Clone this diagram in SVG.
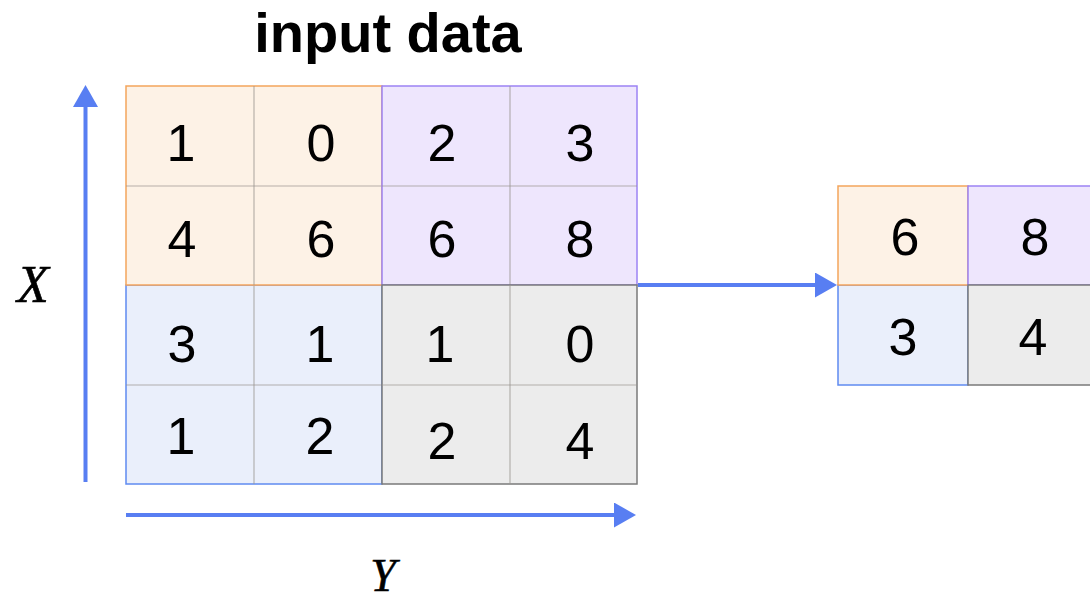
<svg xmlns="http://www.w3.org/2000/svg" width="1090" height="603" viewBox="0 0 1090 603">
  <defs>
    <style>
      .num { font-family: "Liberation Sans", Arial, sans-serif; font-size: 52px; fill: #000; text-anchor: middle; }
      .axis-label { font-family: "Liberation Serif", "Times New Roman", serif; font-style: italic; font-size: 52px; fill: #000; text-anchor: middle; stroke: #000; stroke-width: 0.6; }
      .title { font-family: "Liberation Sans", Arial, sans-serif; font-weight: bold; font-size: 56px; fill: #000; text-anchor: middle; }
      .orange { fill: #fdf2e6; stroke: #f4a55c; stroke-width: 1.5; }
      .purple { fill: #eee6fd; stroke: #9c83f4; stroke-width: 1.5; }
      .blue { fill: #eaeffb; stroke: #5f8bf1; stroke-width: 1.5; }
      .gray { fill: #ececec; stroke: #7a7a7a; stroke-width: 1.5; }
      .inner { stroke: #9a9590; stroke-opacity: 0.7; stroke-width: 1.2; fill: none; }
      .arrow { stroke: #587ef2; stroke-width: 4; fill: none; }
    </style>
    <!-- arrowhead starts at the end of its line and points along it -->
    <marker id="head" markerUnits="userSpaceOnUse" markerWidth="24" markerHeight="26" refX="0" refY="12.5" orient="auto">
      <path d="M0,0 L22,12.5 L0,25 Z" fill="#587ef2"/>
    </marker>
  </defs>

  <rect width="1090" height="603" fill="#ffffff"/>

  <text class="title" x="388" y="52">input data</text>

  <!-- input grid: four 2x2 blocks -->
  <g id="block-blue">
    <rect class="blue" x="126" y="285" width="256" height="199"/>
    <line class="inner" x1="254" y1="285" x2="254" y2="484"/>
    <line class="inner" x1="126" y1="385" x2="382" y2="385"/>
    <text class="num" x="182" y="362">3</text>
    <text class="num" x="320" y="362">1</text>
    <text class="num" x="181" y="454">1</text>
    <text class="num" x="320" y="454">2</text>
  </g>
  <g id="block-orange">
    <rect class="orange" x="126" y="86" width="256" height="199"/>
    <line class="inner" x1="254" y1="86" x2="254" y2="285"/>
    <line class="inner" x1="126" y1="186" x2="382" y2="186"/>
    <text class="num" x="181" y="161">1</text>
    <text class="num" x="321" y="161">0</text>
    <text class="num" x="182" y="257">4</text>
    <text class="num" x="321" y="257">6</text>
  </g>
  <g id="block-purple">
    <rect class="purple" x="382" y="86" width="255" height="199"/>
    <line class="inner" x1="510" y1="86" x2="510" y2="285"/>
    <line class="inner" x1="382" y1="186" x2="637" y2="186"/>
    <text class="num" x="442" y="161">2</text>
    <text class="num" x="580" y="161">3</text>
    <text class="num" x="442" y="257">6</text>
    <text class="num" x="580" y="257">8</text>
  </g>
  <g id="block-gray">
    <rect class="gray" x="382" y="285" width="255" height="199"/>
    <line class="inner" x1="510" y1="285" x2="510" y2="484"/>
    <line class="inner" x1="382" y1="385" x2="637" y2="385"/>
    <text class="num" x="440" y="362">1</text>
    <text class="num" x="580" y="362">0</text>
    <text class="num" x="442" y="459">2</text>
    <text class="num" x="580" y="459">4</text>
  </g>

  <!-- pooled output -->
  <g id="out-blue">
    <rect class="blue" x="838" y="285" width="130" height="100"/>
    <text class="num" x="903" y="355">3</text>
  </g>
  <g id="out-orange">
    <rect class="orange" x="838" y="186" width="130" height="99"/>
    <text class="num" x="905" y="255">6</text>
  </g>
  <g id="out-purple">
    <rect class="purple" x="968" y="186" width="130" height="99"/>
    <text class="num" x="1035" y="255">8</text>
  </g>
  <g id="out-gray">
    <rect class="gray" x="968" y="285" width="130" height="100"/>
    <text class="num" x="1033" y="355">4</text>
  </g>

  <!-- axes and pooling connector -->
  <g id="connectors">
    <line class="arrow" x1="85.5" y1="482" x2="85.5" y2="107" marker-end="url(#head)"/>
    <line class="arrow" x1="126" y1="515" x2="614" y2="515" marker-end="url(#head)"/>
    <line class="arrow" x1="638" y1="285" x2="815" y2="285" marker-end="url(#head)"/>
  </g>

  <text class="axis-label" x="33" y="302">X</text>
  <text class="axis-label" x="383" y="591" style="font-size:46px">Y</text>
</svg>
